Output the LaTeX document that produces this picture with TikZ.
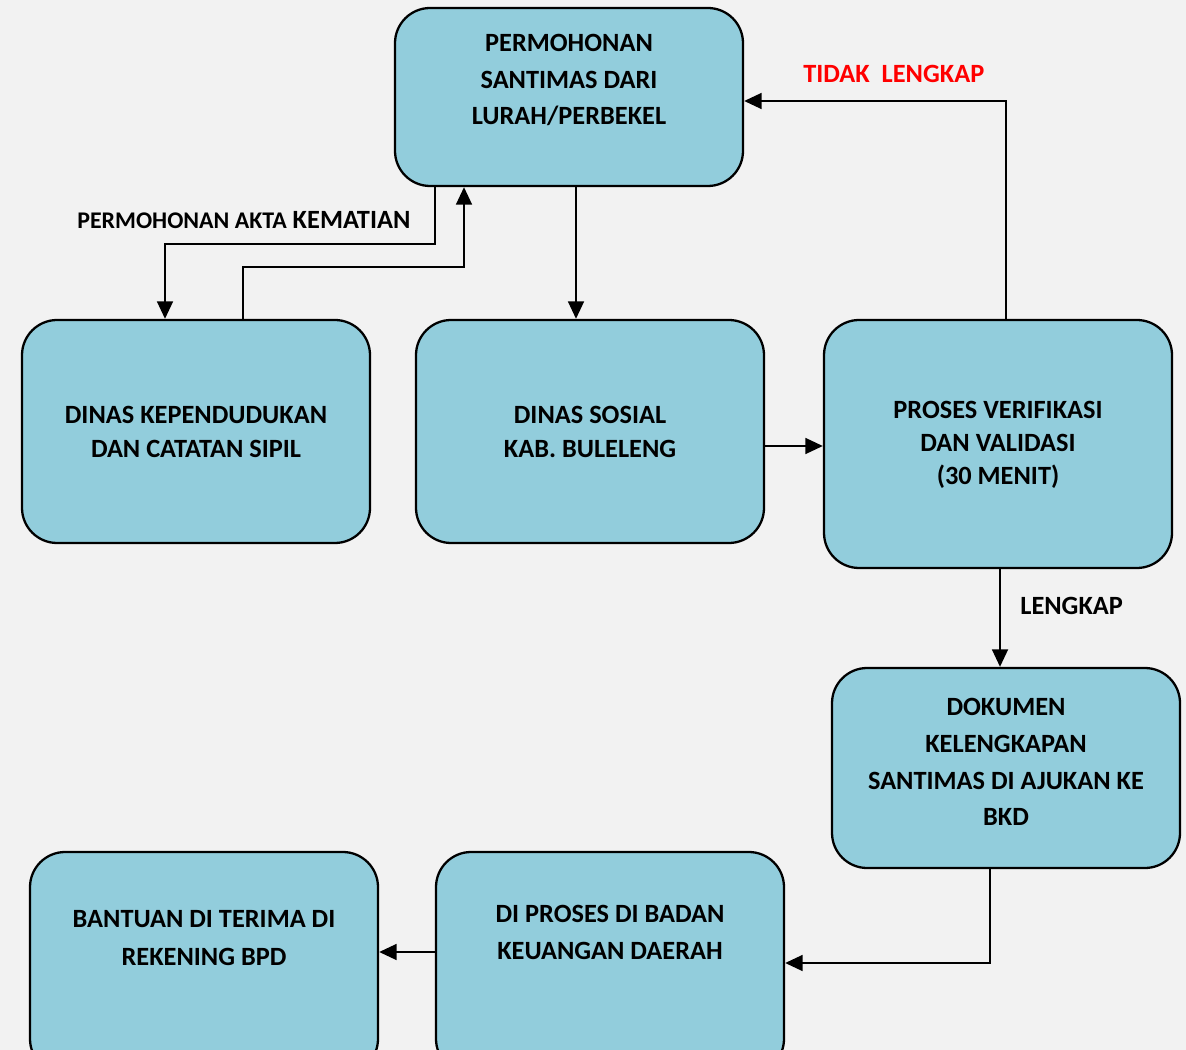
\documentclass[tikz,border=0pt]{standalone}
\usepackage{fontspec}
\setmainfont{Carlito}
\usetikzlibrary{arrows.meta,calc,fit}
\definecolor{boxfill}{HTML}{92CDDC}
\definecolor{bg}{HTML}{F2F2F2}
\begin{document}
\begin{tikzpicture}[x=0.02cm,y=-0.02cm,
  box/.style={draw=black,line width=1.3pt,fill=boxfill,rounded corners=20pt,inner sep=0pt},
  txt/.style={font=\bfseries\fontsize{15}{21}\selectfont,align=center,inner sep=0pt},
  arr/.style={line width=1.35pt,-{Triangle[length=10pt,width=9pt]}},
  lbl/.style={font=\bfseries\fontsize{15}{17}\selectfont,inner sep=0pt}]
\fill[bg] (0,0) rectangle (1186,1050);
\useasboundingbox (0,0) rectangle (1186,1050);
\clip (0,0) rectangle (1186,1050);
% boxes
\node[box,fit={(395,8) (743,186)}] (top) {};
\node[box,fit={(22,320) (370,543)}] (dk) {};
\node[box,fit={(416,320) (764,543)}] (ds) {};
\node[box,fit={(824,320) (1172,568)}] (pv) {};
\node[box,fit={(832,668) (1180,868)}] (dok) {};
\node[box,fit={(436,852) (784,1074)}] (dp) {};
\node[box,fit={(30,852) (378,1074)}] (bt) {};
% texts
\node[txt] (ttop) at (569,80) {PERMOHONAN\\SANTIMAS DARI\\LURAH/PERBEKEL};
\node[txt,font=\bfseries\fontsize{15}{19.3}\selectfont] (tdk) at (196,432) {DINAS KEPENDUDUKAN\\DAN CATATAN SIPIL};
\node[txt,font=\bfseries\fontsize{15}{19.3}\selectfont] (tds) at (590,432) {DINAS SOSIAL\\KAB. BULELENG};
\node[txt,font=\bfseries\fontsize{15}{18.7}\selectfont] (tpv) at (998,445) {PROSES VERIFIKASI\\DAN VALIDASI\\(30 MENIT)};
\node[txt] (tdok) at (1006,762) {DOKUMEN\\KELENGKAPAN\\SANTIMAS DI AJUKAN KE\\BKD};
\node[txt] (tdp) at (610,932) {DI PROSES DI BADAN\\KEUANGAN DAERAH};
\node[txt,font=\bfseries\fontsize{15}{21.5}\selectfont] (tbt) at (204,938) {BANTUAN DI TERIMA DI\\REKENING BPD};
% labels
\node[lbl,anchor=west] (lakta) at (77,220) {{\fontsize{13.6}{15}\selectfont PERMOHONAN AKTA} KEMATIAN};
\node[lbl,text=red,anchor=west] (ltidak) at (803,74) {TIDAK\ \ LENGKAP};
\node[lbl,anchor=west] (llengkap) at (1020,606) {LENGKAP};
% connectors
\coordinate (dsa) at ($(pv.west)+(0,2)$);
\draw[arr] ($(top.south)+(-134,0)$) -- ++(0,57) -| ($(dk.north)+(-31,0)$);
\draw[arr] ($(dk.north)+(47,0)$) -- ++(0,-52) -| ($(top.south)+(-105,0)$);
\draw[arr] ($(top.south)+(7,0)$) -- ($(ds.north)+(-14,0)$);
\draw[arr] (dsa -| ds.east) -- (dsa);
\draw[arr] ($(pv.north)+(8,0)$) |- ($(top.east)+(0,4)$);
\draw[arr] ($(pv.south)+(2,0)$) -- ($(dok.north)+(-6,0)$);
\draw[arr] ($(dok.south)+(-16,0)$) |- (dp.east);
\draw[arr] ($(dp.west)+(0,-11)$) -- ($(bt.east)+(0,-11)$);
\end{tikzpicture}
\end{document}
